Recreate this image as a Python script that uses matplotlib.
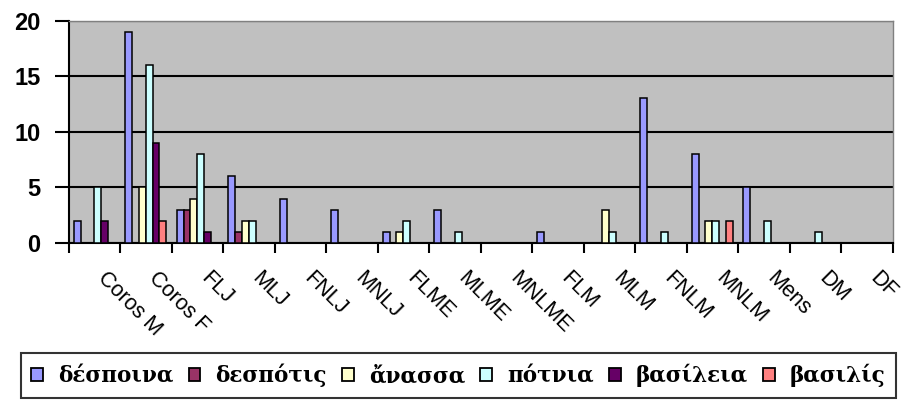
import matplotlib
matplotlib.use("Agg")
import matplotlib.pyplot as plt
import numpy as np
from matplotlib.transforms import ScaledTranslation
from matplotlib.patches import Patch

categories = ["Coros M", "Coros F", "FLJ", "MLJ", "FNLJ", "MNLJ", "FLME", "MLME",
              "MNLME", "FLM", "MLM", "FNLM", "MNLM", "Mens", "DM", "DF"]

series_names = ["δέσποινα", "δεσπότις", "ἄνασσα", "πότνια", "βασίλεια", "βασιλίς"]

despoina = [2, 19, 3, 6, 4, 3, 1, 3, 0, 1, 0, 13, 8, 5, 0, 0]
despotis = [0, 0, 3, 1, 0, 0, 0, 0, 0, 0, 0, 0, 0, 0, 0, 0]
anassa   = [0, 5, 4, 2, 0, 0, 1, 0, 0, 0, 3, 0, 2, 0, 0, 0]
potnia   = [5, 16, 8, 2, 0, 0, 2, 1, 0, 0, 1, 1, 2, 2, 1, 0]
basileia = [2, 9, 1, 0, 0, 0, 0, 0, 0, 0, 0, 0, 0, 0, 0, 0]
basilis  = [0, 2, 0, 0, 0, 0, 0, 0, 0, 0, 0, 0, 2, 0, 0, 0]

y_ticks = [0, 5, 10, 15, 20]

series = [despoina, despotis, anassa, potnia, basileia, basilis]
colors = ["#9999FF", "#993366", "#FFFFCC", "#CCFFFF", "#660066", "#FF8080"]

W, H, DPI = 909, 401, 100
fig = plt.figure(figsize=(W / DPI, H / DPI), dpi=DPI)
ax = fig.add_axes([68.5 / W, 1 - 243 / H, (892.5 - 68.5) / W, (243 - 20.5) / H])
ax.set_facecolor("#C0C0C0")

n = len(series)
bw = 1 / (n + 1.5)
x = np.arange(len(categories))
for i, (vals, col) in enumerate(zip(series, colors)):
    ax.bar(x - (n - 1) / 2 * bw + i * bw, vals, width=bw, color=col,
           edgecolor="black", linewidth=1.1, zorder=3)

ax.set_xlim(-0.5, len(categories) - 0.5)
ax.set_ylim(0, 20)

# horizontal gridlines
ax.set_yticks(y_ticks)
ax.yaxis.grid(True, color="black", linewidth=1.5, zorder=1)
ax.set_axisbelow(True)
ax.set_yticklabels([str(v) for v in y_ticks], fontsize=17, fontweight="bold",
                   family="Liberation Sans")
ax.tick_params(axis="y", length=10, width=1.5, pad=10, direction="out")

# category boundaries carry the tick marks; centres carry the labels
ax.set_xticks(np.arange(len(categories) + 1) - 0.5, minor=True)
ax.set_xticks(x)
ax.set_xticklabels(categories, rotation=-45, ha="left", va="top",
                   rotation_mode="anchor", fontsize=15.5, family="Liberation Sans")
ax.tick_params(axis="x", which="major", length=0, pad=0)
ax.tick_params(axis="x", which="minor", length=7, width=1.5, direction="out")
off = ScaledTranslation(14 / DPI, -25 / DPI, fig.dpi_scale_trans)
for lbl in ax.get_xticklabels():
    lbl.set_transform(lbl.get_transform() + off)

for side in ("left", "bottom"):
    ax.spines[side].set_color("black")
    ax.spines[side].set_linewidth(1.5)
for side in ("top", "right"):
    ax.spines[side].set_color("#808080")
    ax.spines[side].set_linewidth(1.0)

handles = [Patch(facecolor=c, edgecolor="black", linewidth=1.3) for c in colors]
leg = fig.legend(handles, series_names, loc="lower left",
                 bbox_to_anchor=(20.5 / W, 1 - 398 / H), ncol=6, frameon=True,
                 fancybox=False, edgecolor="black", borderpad=0.5,
                 handlelength=0.55, handleheight=0.55, handletextpad=0.7,
                 columnspacing=0.7, borderaxespad=0,
                 prop={"family": "DejaVu Serif", "weight": "bold", "size": 15.5})
leg.get_frame().set_linewidth(1.5)

fig.savefig("out.png", dpi=DPI)
